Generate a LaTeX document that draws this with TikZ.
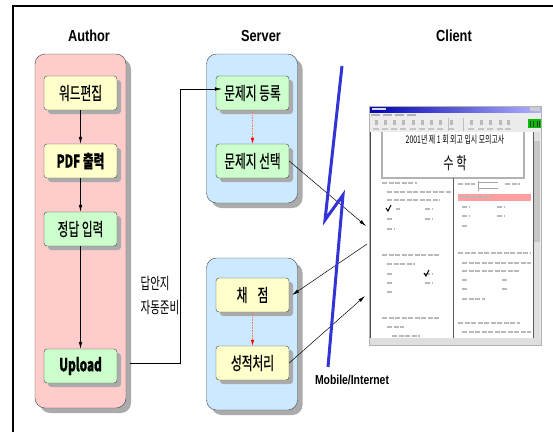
\documentclass[tikz,border=0pt]{standalone}
\usepackage{fontspec}
\setmainfont{Liberation Sans}
\newfontfamily\kfont[FakeStretch=0.65,FakeBold=0.4]{Noto Sans CJK KR}
\newfontfamily\sfont[FakeStretch=0.66]{Noto Sans CJK KR}
\newfontfamily\hfont[FakeStretch=0.8]{Liberation Sans}
\usetikzlibrary{arrows.meta}

\definecolor{authorpink}{HTML}{FFCCCC}
\definecolor{serverblue}{HTML}{CCEAFF}
\definecolor{boxyellow}{HTML}{FFFFCC}
\definecolor{boxgreen}{HTML}{CCFFCC}
\definecolor{boltblue}{HTML}{3333D6}
\definecolor{markpink}{HTML}{FF9F9F}
\definecolor{shadegray}{HTML}{ABABAB}

\tikzset{
  panel/.style={draw=black!75, rounded corners=10pt, minimum width=91pt},
  panelshade/.style={fill=shadegray, rounded corners=10pt},
  authorpanel/.style={panel, fill=authorpink},
  serverpanel/.style={panel, fill=serverblue},
  task/.style={draw=black!75, rounded corners=3pt, minimum width=73pt, minimum height=34pt,
    font=\kfont\fontsize{18}{20}\selectfont},
  taskshade/.style={fill=shadegray, rounded corners=3pt},
  yellowtask/.style={task, fill=boxyellow},
  greentask/.style={task, fill=boxgreen},
  flow/.style={-{Latex[length=7pt,width=3.5pt]}, line width=0.5pt},
  redflow/.style={densely dotted, draw=red!55, line width=0.6pt, -{Latex[length=6pt,width=3.5pt,red]}},
  heading/.style={font=\hfont\bfseries\fontsize{16}{18}\selectfont},
  bolt/.style={draw=boltblue, line width=3pt},
  scribble/.style={gray!55, line width=1.8pt, dash pattern=on 5pt off 1.5pt},
}

\begin{document}
\begin{tikzpicture}[x=1pt, y=-1pt]
  \useasboundingbox (0,0) rectangle (553,432);
  \draw[line width=1.2pt] (13,432) -- (13,6) -- (553,6);

  \node[heading] (authortitle) at (89,36) {Author};
  \node[heading] (servertitle) at (261,36) {Server};
  \node[heading] (clienttitle) at (454,36) {Client};

  % shadows first, then the panels over them
  \path[panelshade] (40,59) rectangle (131,413);
  \path[panelshade] (211.5,59) rectangle (302.5,208);
  \path[panelshade] (211.5,263) rectangle (302.5,415);
  \node[authorpanel, minimum height=354pt] (authorp) at (80.5,231) {};
  \node[serverpanel, minimum height=149pt] (serverp) at (252,128.5) {};
  \node[serverpanel, minimum height=152pt] (scorep) at (252,334) {};

  \foreach \cx/\cy in {80.5/93, 80.5/161, 80.5/229, 80.5/366,
      252.5/93, 252.5/161, 252.5/295, 252.5/363}
    \path[taskshade] (\cx-32.5,\cy-13) rectangle (\cx+40.5,\cy+21);

  \node[yellowtask] (word) at (80.5,93) {워드편집};
  \node[yellowtask] (pdf) at (80.5,161) {\bfseries PDF 출력};
  \node[greentask] (answer) at (80.5,229) {정답 입력};
  \node[greentask] (upload) at (80.5,366) {\bfseries Upload};

  \node[greentask] (register) at (252.5,93) {문제지 등록};
  \node[greentask] (choose) at (252.5,161) {문제지 선택};
  \node[yellowtask] (grade) at (252.5,295) {채\hspace{10pt}점};
  \node[yellowtask] (result) at (252.5,363) {성적처리};

  \draw[flow] (word) -- (pdf);
  \draw[flow] (pdf) -- (answer);
  \draw[flow] (answer) -- (upload);
  \draw[redflow] (register) -- (choose);
  \draw[redflow] (grade) -- (result);

  \draw[flow, shorten <=13pt] ([yshift=3pt]upload.east) -- ++(63,0)
    |- ([yshift=4pt, xshift=6pt]register.west);
  \node[font=\sfont\fontsize{16}{24}\selectfont, align=left, anchor=north west]
    (autoprep) at (137,273) {답안지\\자동준비};

  % client window
  \fill[gray!15] (369,106) rectangle (541,345);
  \shade[left color=blue!70!black, right color=blue!30!white] (369,106) rectangle (541,112);
  \fill[white!85!blue] (372,108) rectangle (386,110);
  \fill[gray!40] (530,107) rectangle (540,111);
  \foreach \x in {371,383,395,407}
    \fill[gray!60] (\x,113.5) rectangle +(9,2);
  \foreach \x in {376,385,394,403,413,422,431,440,451,471,481,490,500,508} {
    \fill[gray!55] (\x-1.5,120) rectangle (\x+1.5,125);
    \fill[gray!45] (\x-3,128) rectangle (\x+3,129.5);
  }
  \draw[gray!50] (448,118) -- (448,131) (463,118) -- (463,131);
  \fill[green!75!black] (528,119) rectangle (541,128);
  \foreach \x in {530,533,537,539}
    \fill[black!80] (\x,120.5) rectangle +(1,6);
  \fill[white] (370,132) rectangle (533,338);
  \fill[gray!25] (533,132) rectangle (540,338);
  \fill[gray!45] (534,141) rectangle (540,242);
  \draw[gray!70!black] (533,132) -- (533,338);
  \fill[gray!25] (369,338) rectangle (541,345);
  \draw[gray!60] (369,106) rectangle (541,345);
  \draw[gray!60!black] (370,132) -- (370,338);

  \draw[gray!60, line width=1.5pt] (382,132) -- (382,178) -- (524,178) -- (524,132);
  \node[font=\sfont\fontsize{10.5}{12}\selectfont] (examtitle) at (455,140) {2001년 제 1 회 외고 입시 모의고사};
  \node[font=\sfont\fontsize{17}{18}\selectfont] (subject) at (455,163) {수 학};
  \draw[gray!70!black, line width=0.8pt] (453,178) -- (453,338);

  \fill[markpink] (458,194) rectangle (531,201);
  \foreach \y/\a/\b in {183/382/417, 192/387/451, 200/387/440, 209/396/400, 209/425/432,
      219/387/393, 219/425/432, 229/387/395, 255/382/440, 264/387/415, 274/387/392,
      274/425/432, 283/387/393, 283/425/432, 292/387/392, 318/382/440, 327/387/404,
      336/392/420, 184/458/475, 184/505/520, 197/461/490, 207/462/470, 207/497/505,
      216/462/470, 216/497/505, 226/462/467, 253/458/531, 263/462/531, 271/462/520,
      280/462/468, 280/502/508, 289/462/468, 289/502/508, 299/462/485, 323/458/520,
      332/462/531}
    \draw[scribble] (\a,\y) -- (\b,\y);
  \draw[gray!70] (478,181) -- (478,191) (478,182) -- (498,182) (478,188) -- (498,188);
  \draw[line width=1pt] (386,208) -- (388,211) -- (391,205);
  \draw[line width=1pt] (424,273) -- (426,276) -- (429,270);

  \coordinate (shotin) at (366,226);
  \coordinate (shotout) at (367,244);
  \coordinate (shotback) at (365,296);
  \draw[flow] (choose.east) -- (shotin);
  \draw[flow] (shotout) -- ([xshift=3pt]grade.east);
  \draw[flow] (result.east) -- (shotback);

  \draw[bolt] (342,66) -- (325,220) -- (343,195) -- (328,367);
  \node[heading, font=\hfont\bfseries\fontsize{13}{15}\selectfont] (network) at (352,380) {Mobile/Internet};
\end{tikzpicture}
\end{document}
